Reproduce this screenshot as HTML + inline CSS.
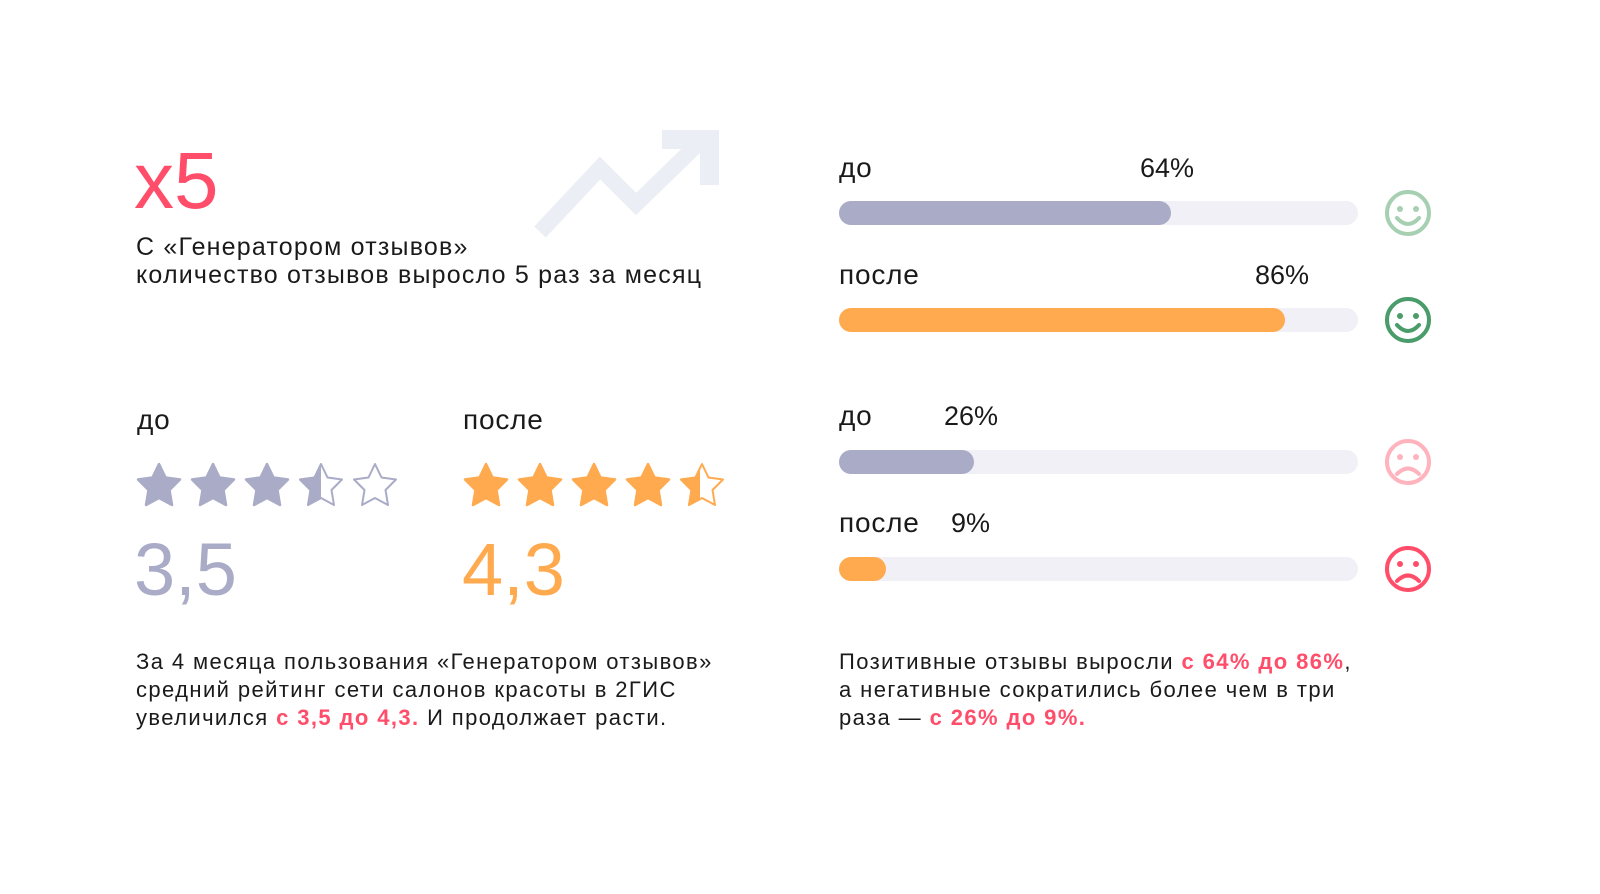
<!DOCTYPE html>
<html><head><meta charset="utf-8"><style>
html,body{margin:0;padding:0;background:#fff;}
body{width:1600px;height:894px;position:relative;overflow:hidden;font-family:"Liberation Sans","DejaVu Sans",sans-serif;color:#1a1a1a;}
.t{position:absolute;white-space:nowrap;line-height:1;}
.p{font-size:22px;letter-spacing:1.4px;}
.r{color:#ff4d6a;font-weight:bold;}
.lbl{font-size:28px;letter-spacing:0.8px;}
.pct{font-size:27px;}
.track{position:absolute;left:839px;width:519px;height:24px;border-radius:12px;background:#f0f0f6;}
.fill{position:absolute;left:0;top:0;height:24px;border-radius:12px;}
</style></head><body>
<svg width="1600" height="894" style="position:absolute;left:0;top:0">
<defs>
<polygon id="st" points="23,2 29.5,15.5 44,17.5 33.5,28 36,43 23,36 10,43 12.5,28 2,17.5 16.5,15.5" stroke-linejoin="round"/>
<clipPath id="half"><rect x="0" y="0" width="23" height="46"/></clipPath>
<clipPath id="q"><rect x="0" y="0" width="21" height="46"/></clipPath>
</defs>
<polyline points="540,232 600,168 636,204 702,140" fill="none" stroke="#eceef5" stroke-width="16"/>
<polygon points="662,130 719,130 719,185 700,185 700,149 662,149" fill="#eceef5"/>
<g fill="#a9abc7" stroke="#a9abc7" stroke-width="2.5">
<use href="#st" x="136" y="462"/><use href="#st" x="190" y="462"/><use href="#st" x="244" y="462"/>
</g>
<g transform="translate(298,462)"><use href="#st" fill="#fff" stroke="#a9abc7" stroke-width="2"/><g clip-path="url(#half)"><use href="#st" fill="#a9abc7" stroke="#a9abc7" stroke-width="2"/></g></g>
<use href="#st" x="352" y="462" fill="#fff" stroke="#a9abc7" stroke-width="2"/>
<g fill="#ffaa4f" stroke="#ffaa4f" stroke-width="2.5">
<use href="#st" x="463" y="462"/><use href="#st" x="517" y="462"/><use href="#st" x="571" y="462"/><use href="#st" x="625" y="462"/>
</g>
<g transform="translate(679,462)"><use href="#st" fill="#fff" stroke="#ffaa4f" stroke-width="2"/><g clip-path="url(#q)"><use href="#st" fill="#ffaa4f" stroke="#ffaa4f" stroke-width="2"/></g></g>
<g fill="none" stroke-width="4" stroke-linecap="round">
<g stroke="#a7d0b3"><circle cx="1408" cy="213" r="21"/><path d="M1397,218 Q1408,230 1419,218"/></g>
<g stroke="#4a9c6a"><circle cx="1408" cy="320" r="21"/><path d="M1397,325 Q1408,337 1419,325"/></g>
<g stroke="#ffb3bd"><circle cx="1408" cy="462" r="21"/><path d="M1397,474 Q1408,463 1419,474"/></g>
<g stroke="#ff4d6a"><circle cx="1408" cy="569" r="21"/><path d="M1397,581 Q1408,570 1419,581"/></g>
</g>
<g>
<circle cx="1400" cy="209" r="3" fill="#a7d0b3"/><circle cx="1416" cy="209" r="3" fill="#a7d0b3"/>
<circle cx="1400" cy="316" r="3" fill="#4a9c6a"/><circle cx="1416" cy="316" r="3" fill="#4a9c6a"/>
<circle cx="1400" cy="457" r="3" fill="#ffb3bd"/><circle cx="1416" cy="457" r="3" fill="#ffb3bd"/>
<circle cx="1400" cy="564" r="3" fill="#ff4d6a"/><circle cx="1416" cy="564" r="3" fill="#ff4d6a"/>
</g>
</svg>

<div class="t" style="left:134px;top:141px;font-size:80px;color:#ff4d6a;">x5</div>
<div class="t p" style="left:136px;top:235px;font-size:25px;letter-spacing:1.2px;">С «Генератором отзывов»</div>
<div class="t p" style="left:136px;top:263px;font-size:25px;letter-spacing:1.2px;">количество отзывов выросло 5 раз за месяц</div>

<div class="t lbl" style="left:137px;top:406px;">до</div>
<div class="t lbl" style="left:463px;top:406px;">после</div>
<div class="t" style="left:134px;top:533px;font-size:74px;color:#a9abc7;">3,5</div>
<div class="t" style="left:462px;top:533px;font-size:74px;color:#ffaa4f;">4,3</div>

<div class="t p" style="left:136px;top:651px;">За 4 месяца пользования «Генератором отзывов»</div>
<div class="t p" style="left:136px;top:679px;">средний рейтинг сети салонов красоты в 2ГИС</div>
<div class="t p" style="left:136px;top:707px;">увеличился <span class="r">с 3,5 до 4,3.</span> И продолжает расти.</div>

<div class="t lbl" style="left:839px;top:154px;">до</div>
<div class="t pct" style="left:1140px;top:155px;">64%</div>
<div class="track" style="top:201px;"><div class="fill" style="width:332px;background:#a9abc7;"></div></div>

<div class="t lbl" style="left:839px;top:261px;">после</div>
<div class="t pct" style="left:1255px;top:262px;">86%</div>
<div class="track" style="top:308px;"><div class="fill" style="width:446px;background:#ffaa4f;"></div></div>

<div class="t lbl" style="left:839px;top:402px;">до</div>
<div class="t pct" style="left:944px;top:403px;">26%</div>
<div class="track" style="top:450px;"><div class="fill" style="width:135px;background:#a9abc7;"></div></div>

<div class="t lbl" style="left:839px;top:509px;">после</div>
<div class="t pct" style="left:951px;top:510px;">9%</div>
<div class="track" style="top:557px;"><div class="fill" style="width:47px;background:#ffaa4f;"></div></div>

<div class="t p" style="left:839px;top:651px;">Позитивные отзывы выросли <span class="r">с 64% до 86%</span>,</div>
<div class="t p" style="left:839px;top:679px;">а негативные сократились более чем в три</div>
<div class="t p" style="left:839px;top:707px;">раза — <span class="r">с 26% до 9%.</span></div>
</body></html>
